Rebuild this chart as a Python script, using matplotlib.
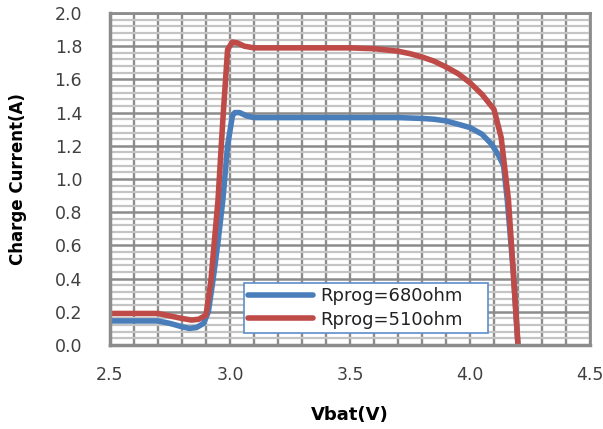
import matplotlib
matplotlib.use("Agg")
import matplotlib.pyplot as plt
from matplotlib.ticker import MultipleLocator

# Data
v_680 = [2.50, 2.60, 2.70, 2.75, 2.80, 2.83, 2.86, 2.89, 2.91, 2.93, 2.95, 2.97, 2.99, 3.01, 3.02,
         3.04, 3.07, 3.10, 3.30, 3.50, 3.70, 3.80, 3.85, 3.90, 3.95, 4.00, 4.05, 4.09, 4.12,
         4.14, 4.155, 4.18, 4.20]
i_680 = [0.145, 0.145, 0.145, 0.13, 0.11, 0.10, 0.105, 0.13, 0.20, 0.40, 0.62, 0.87, 1.20, 1.38, 1.40,
         1.40, 1.38, 1.37, 1.37, 1.37, 1.37, 1.365, 1.36, 1.35, 1.33, 1.31, 1.27, 1.21, 1.14,
         1.08, 0.88, 0.45, 0.0]

v_510 = [2.50, 2.60, 2.70, 2.75, 2.80, 2.84, 2.87, 2.90, 2.92, 2.95, 2.97, 2.99, 3.01, 3.03,
         3.06, 3.10, 3.30, 3.50, 3.60, 3.70, 3.75, 3.80, 3.85, 3.90, 3.95, 4.00, 4.05, 4.10,
         4.13, 4.16, 4.18, 4.20]
i_510 = [0.19, 0.19, 0.19, 0.175, 0.16, 0.15, 0.155, 0.18, 0.38, 0.87, 1.35, 1.78, 1.825, 1.82,
         1.80, 1.79, 1.79, 1.79, 1.785, 1.77, 1.755, 1.735, 1.71, 1.675, 1.635, 1.58, 1.51, 1.42,
         1.25, 0.88, 0.45, 0.0]

labels = ["Rprog=680ohm", "Rprog=510ohm"]
x_ticks = [2.5, 3.0, 3.5, 4.0, 4.5]
y_ticks = [0.0, 0.2, 0.4, 0.6, 0.8, 1.0, 1.2, 1.4, 1.6, 1.8, 2.0]

fig = plt.figure(figsize=(6.03, 4.29), dpi=100)
ax = fig.add_axes([0.1824, 0.1958, 0.796, 0.7739])

ax.set_xlim(2.5, 4.5)
ax.set_ylim(0, 2.0)
ax.set_xticks(x_ticks)
ax.set_xticklabels([f"{t:.1f}" for t in x_ticks])
ax.set_yticks(y_ticks)
ax.set_yticklabels([f"{t:.1f}" for t in y_ticks])
ax.xaxis.set_minor_locator(MultipleLocator(0.1))
ax.yaxis.set_minor_locator(MultipleLocator(0.04))

ax.grid(which="major", axis="y", color="#8c8c8c", linewidth=1.8)
ax.grid(which="minor", axis="y", color="#c4c4c4", linewidth=1.6)
ax.grid(which="both", axis="x", color="#8c8c8c", linewidth=1.7)
ax.set_axisbelow(True)

for s in ax.spines.values():
    s.set_color("#8c8c8c")
    s.set_linewidth(2.0)
ax.spines["bottom"].set_linewidth(2.5)
ax.spines["left"].set_linewidth(2.5)

ax.tick_params(which="both", length=0, labelsize=12.5, labelcolor="#404040")
ax.tick_params(axis="y", pad=20)
ax.tick_params(axis="x", pad=15)

ax.plot(v_680, i_680, color="#4a7ebb", linewidth=4.0, solid_joinstyle="round",
        solid_capstyle="round", label=labels[0])
ax.plot(v_510, i_510, color="#be4b48", linewidth=4.0, solid_joinstyle="round",
        solid_capstyle="round", label=labels[1])

leg = ax.legend(loc="lower left", bbox_to_anchor=(0.279, 0.036, 0.508, 0.17),
                mode="expand", fontsize=13, frameon=True, fancybox=False,
                borderpad=0.25, handlelength=3.6, labelspacing=0.3, handletextpad=0.4,
                borderaxespad=0)
leg.get_frame().set_edgecolor("#5b8fc9")
leg.get_frame().set_linewidth(1.2)
leg.get_frame().set_facecolor("white")
leg.get_frame().set_alpha(1)
for t in leg.get_texts():
    t.set_color("#222222")

ax.set_xlabel("Vbat(V)", fontsize=13, fontweight="bold", labelpad=16)
ax.set_ylabel("Charge Current(A)", fontsize=12, fontweight="bold", labelpad=20)

fig.savefig("out.png", dpi=100)
